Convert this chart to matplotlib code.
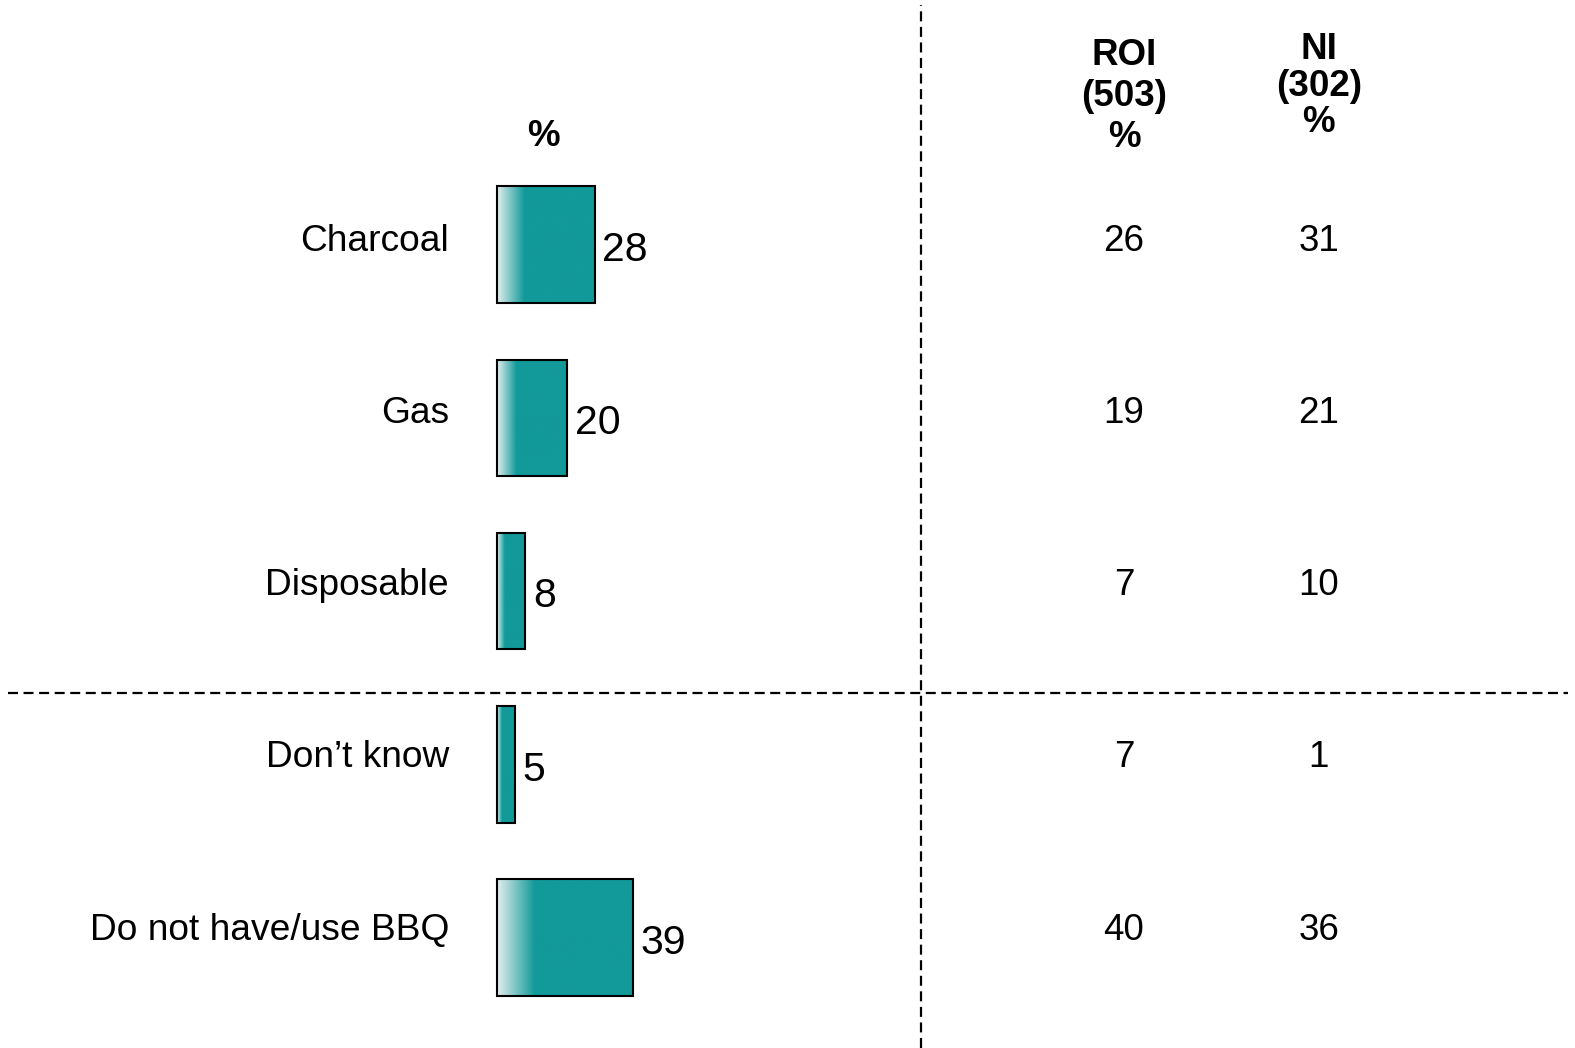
import matplotlib
matplotlib.use('Agg')
import matplotlib.pyplot as plt
from matplotlib.colors import LinearSegmentedColormap
from matplotlib.lines import Line2D
import numpy as np

plt.rcParams['font.family'] = ['Liberation Sans', 'DejaVu Sans']

# Data
categories = ['Charcoal', 'Gas', 'Disposable', 'Don\u2019t know', 'Do not have/use BBQ']
total = [28, 20, 8, 5, 39]
roi = [26, 19, 7, 7, 40]
ni = [31, 21, 10, 1, 36]
roi_header = ['ROI', '(503)', '%']
ni_header = ['NI', '(302)', '%']

teal = '#129999'
light = '#e4eded'

W, H = 1575, 1048
s = W / 1568  # layout measured on the 1568-wide preview
fig = plt.figure(figsize=(W / 100, H / 100), dpi=100)
ax = fig.add_axes([0, 0, 1, 1])
ax.axis('off')

# pixel layout -> data scale
px_per_unit = 3.47 * s
x0 = 495 * s
y_first, y_step = 243.5 * s, 172.5 * s
ax.set_xlim(-x0 / px_per_unit, (W - x0) / px_per_unit)
ax.set_ylim((H - y_first) / y_step, -y_first / y_step)

def py(p):
    return (p * s - y_first) / y_step

def px(p):
    return (p * s - x0) / px_per_unit

bar_h = 0.672
cmap = LinearSegmentedColormap.from_list('grad', [light, teal])
fs = 26.7
dy = 3.5 / y_step  # small downward nudge for text baselines
row_txt = 171.5 / 172.5  # text rows sit on a slightly tighter pitch than bars

for i, v in enumerate(total):
    # gradient fill: light at left edge, solid teal after ~28% of width
    n = 200
    t = np.linspace(0, 1, n)
    g = np.clip(t / 0.28, 0, 1)
    ax.imshow(g[np.newaxis, :], cmap=cmap, aspect='auto', interpolation='bilinear',
              extent=[0, v, i + bar_h / 2, i - bar_h / 2], zorder=2)
    ax.barh(i, v, height=bar_h, fill=False, edgecolor='black', linewidth=1.5, zorder=3)
    ax.text(v + 2.2, i + 0.01 + dy, str(v), ha='left', va='center', fontsize=29.5, zorder=4)
    yt = i * row_txt - 0.04 + dy
    ax.text(px(447), yt, categories[i], ha='right', va='center', fontsize=fs)
    ax.text(px(1119), yt, str(roi[i]), ha='center', va='center', fontsize=26.5)
    ax.text(px(1313), yt, str(ni[i]), ha='center', va='center', fontsize=26.5)

ax.set_xlim(-x0 / px_per_unit, (W - x0) / px_per_unit)
ax.set_ylim((H - y_first) / y_step, -y_first / y_step)

# headers
ax.text(px(541), py(132) + dy, '%', ha='center', va='center', fontsize=26.5, fontweight='bold')
for txt, p in zip(roi_header, [52, 93, 133]):
    ax.text(px(1119), py(p) + dy, txt, ha='center', va='center', fontsize=26.5, fontweight='bold')
for txt, p in zip(ni_header, [46, 83, 118]):
    ax.text(px(1313), py(p) + dy, txt, ha='center', va='center', fontsize=26.5, fontweight='bold')

# dashed separators
dash = (0, (4.5, 2.5))
fig.add_artist(Line2D([917 * s / W, 917 * s / W], [0, 1 - 5 / H], color='black',
                      linewidth=1.6, linestyle=dash))
fig.add_artist(Line2D([8 / W, 1568 / W], [1 - 690 * s / H, 1 - 690 * s / H], color='black',
                      linewidth=1.6, linestyle=dash))

fig.savefig('out.png', dpi=100)
